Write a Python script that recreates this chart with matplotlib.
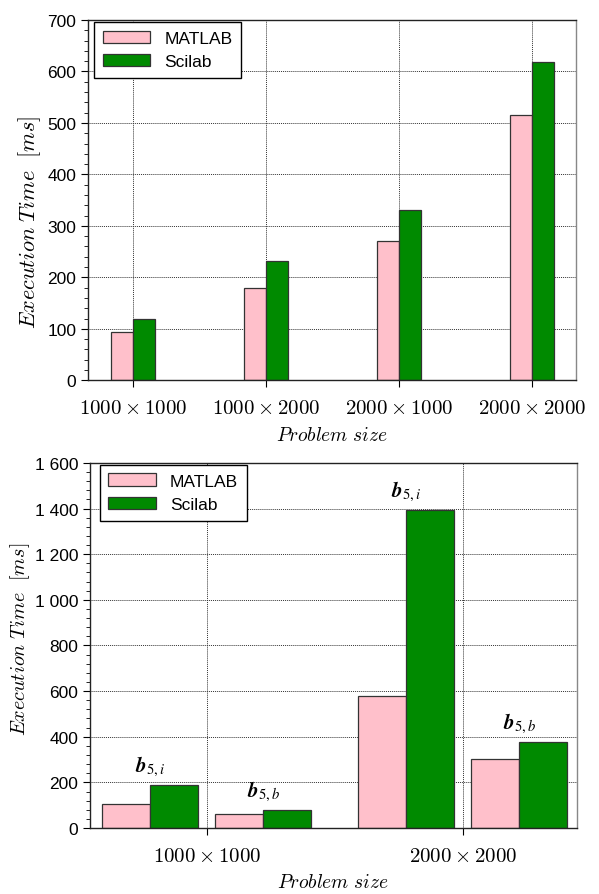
import numpy as np
import matplotlib
matplotlib.use('Agg')
import matplotlib.pyplot as plt
from matplotlib.ticker import MultipleLocator, FuncFormatter

plt.rcParams['font.family'] = ['Liberation Sans', 'DejaVu Sans']
plt.rcParams['mathtext.fontset'] = 'cm'

# data: upper chart
sizes_top = [r'$1000\times1000$', r'$1000\times2000$', r'$2000\times1000$', r'$2000\times2000$']
matlab_top = [93, 179, 270, 515]
scilab_top = [120, 232, 331, 619]

# data: lower chart
sizes_bot = [r'$1000\times1000$', r'$2000\times2000$']
variants = [r'$\mathbfit{b}_{5,i}$', r'$\mathbfit{b}_{5,b}$']
matlab_bot = [[105, 61], [579, 303]]
scilab_bot = [[189, 79], [1392, 377]]

PINK = '#ffc0cb'
GREEN = '#008a00'
EDGE = '#333333'


def style_axes(ax, ylab_size):
    for s in ax.spines.values():
        s.set_color('#222222')
        s.set_linewidth(1.0)
    ax.spines['right'].set_color('#888888')
    ax.tick_params(axis='y', which='major', direction='out', length=5, labelsize=12.5)
    ax.tick_params(axis='y', which='minor', direction='out', length=3)
    ax.tick_params(axis='x', which='major', direction='out', length=5, labelsize=15, pad=8)
    ax.grid(True, which='major', linestyle=(0, (1, 1)), color='#333333', linewidth=0.7)
    ax.set_axisbelow(True)
    ax.set_xlabel(r'$Problem\ size$', fontsize=14, labelpad=6)
    ax.set_ylabel(r'$Execution\ Time\ \ [ms]$', fontsize=ylab_size)


fig = plt.figure(figsize=(5.99, 8.95), dpi=100)

# ---- upper chart
ax1 = fig.add_axes([0.147, 0.574, 0.815, 0.4025])
x = np.arange(1, len(sizes_top) + 1)
w = 0.165
ax1.bar(x - w / 2, matlab_top, w, color=PINK, edgecolor=EDGE, linewidth=0.9, label='MATLAB')
ax1.bar(x + w / 2, scilab_top, w, color=GREEN, edgecolor=EDGE, linewidth=0.9, label='Scilab')
ax1.set_xlim(0.66, 4.33)
ax1.set_ylim(0, 700)
ax1.set_xticks(x)
ax1.set_xticklabels(sizes_top)
ax1.yaxis.set_major_locator(MultipleLocator(100))
ax1.yaxis.set_minor_locator(MultipleLocator(20))
style_axes(ax1, 16)
ax1.yaxis.set_label_coords(-0.092, 0.44)
leg = ax1.legend(loc='upper left', bbox_to_anchor=(0.012, 0.995), fontsize=12.5,
                 handlelength=2.75, handleheight=0.75, fancybox=False, framealpha=1,
                 borderaxespad=0, edgecolor='black', borderpad=0.5, labelspacing=0.45)
leg.get_frame().set_linewidth(1.0)

# ---- lower chart
ax2 = fig.add_axes([0.150, 0.0737, 0.813, 0.408])
xg = np.arange(1, len(sizes_bot) + 1)
off = 0.221
wb = 0.1875
for gi in range(len(sizes_bot)):
    for vi, sign in enumerate([-1, 1]):
        c = xg[gi] + sign * off
        ax2.bar(c - wb / 2, matlab_bot[gi][vi], wb, color=PINK, edgecolor=EDGE, linewidth=0.9,
                label='MATLAB' if gi == 0 and vi == 0 else None)
        ax2.bar(c + wb / 2, scilab_bot[gi][vi], wb, color=GREEN, edgecolor=EDGE, linewidth=0.9,
                label='Scilab' if gi == 0 and vi == 0 else None)
        top = max(matlab_bot[gi][vi], scilab_bot[gi][vi])
        ax2.annotate(variants[vi], (c, top), xytext=(0, 5), textcoords='offset points',
                     ha='center', va='bottom', fontsize=15, math_fontfamily='stix')
ax2.set_xlim(0.543, 2.445)
ax2.set_ylim(0, 1600)
ax2.set_xticks(xg)
ax2.set_xticklabels(sizes_bot)
ax2.yaxis.set_major_locator(MultipleLocator(200))
ax2.yaxis.set_minor_locator(MultipleLocator(40))
ax2.yaxis.set_major_formatter(FuncFormatter(lambda v, p: f'{int(v):,}'.replace(',', ' ')))
style_axes(ax2, 14.5)
ax2.yaxis.set_label_coords(-0.118, 0.52)
leg2 = ax2.legend(loc='upper left', bbox_to_anchor=(0.02, 0.995), fontsize=12.5,
                  handlelength=2.75, handleheight=0.75, fancybox=False, framealpha=1,
                  borderaxespad=0, edgecolor='black', borderpad=0.5, labelspacing=0.45)
leg2.get_frame().set_linewidth(1.0)

fig.savefig('out.png', dpi=100)
